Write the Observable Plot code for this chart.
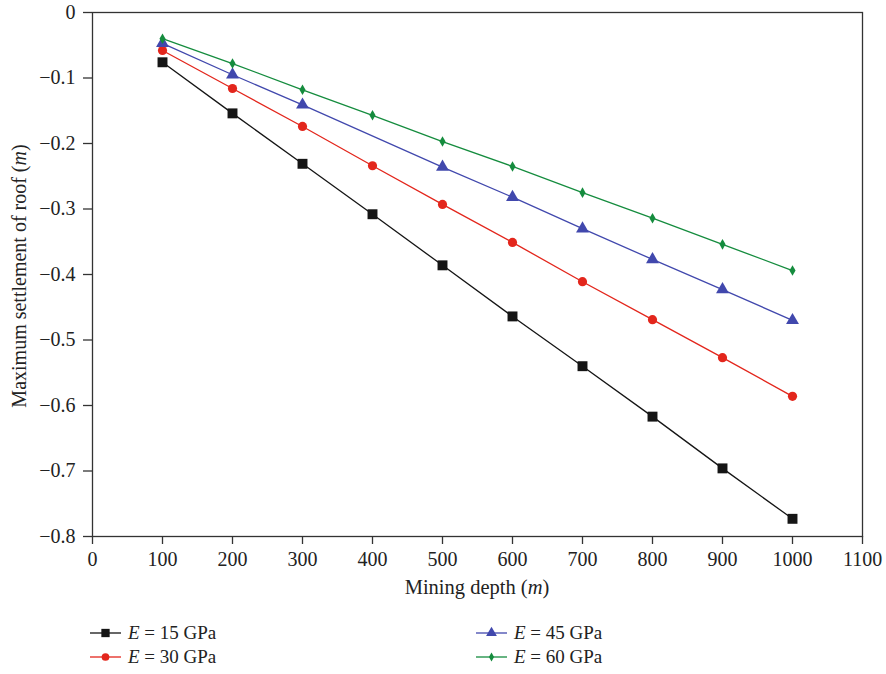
<!DOCTYPE html>
<html>
<head>
<meta charset="utf-8">
<script src="https://cdn.jsdelivr.net/npm/d3@7"></script>
<script src="https://cdn.jsdelivr.net/npm/@observablehq/plot@0.6"></script>
<style>
  body { margin: 0; background: #fff; font-family: "Liberation Serif", "DejaVu Serif", serif; }
  #wrap { position: relative; width: 886px; height: 674px; }
  .leg { position: absolute; font-size: 19px; color: #222; display: flex; align-items: center; white-space: nowrap; }
  .leg svg { margin-right: 7px; }
</style>
</head>
<body>
<div id="wrap"></div>
<script>
const depth = [100, 200, 300, 400, 500, 600, 700, 800, 900, 1000];
const e15 = [-0.076, -0.154, -0.231, -0.308, -0.386, -0.464, -0.540, -0.617, -0.696, -0.773];
const e30 = [-0.058, -0.116, -0.174, -0.234, -0.293, -0.351, -0.411, -0.469, -0.527, -0.586];
const e45depth = [100, 200, 300, 500, 600, 700, 800, 900, 1000];
const e45 = [-0.047, -0.095, -0.141, -0.236, -0.282, -0.330, -0.377, -0.423, -0.470];
const e60 = [-0.040, -0.078, -0.118, -0.157, -0.197, -0.235, -0.275, -0.314, -0.354, -0.394];
const xTicks = [0, 100, 200, 300, 400, 500, 600, 700, 800, 900, 1000, 1100];
const yTicks = [0, -0.1, -0.2, -0.3, -0.4, -0.5, -0.6, -0.7, -0.8];
const seriesNames = ["15", "30", "45", "60"];
const colors = ["#151515", "#e3261c", "#4148ad", "#158c3e"];
const symbols = ["square", "circle", "triangle", "diamond"];
const radii = [5.6, 4.6, 4.8, 3.2];

const data = [];
depth.forEach((d, i) => data.push({s: "15", x: d, y: e15[i]}));
depth.forEach((d, i) => data.push({s: "30", x: d, y: e30[i]}));
e45depth.forEach((d, i) => data.push({s: "45", x: d, y: e45[i]}));
depth.forEach((d, i) => data.push({s: "60", x: d, y: e60[i]}));

const marks = [Plot.frame({stroke: "#333", strokeWidth: 1.3})];
seriesNames.forEach((s, k) => {
  const sub = data.filter(d => d.s === s);
  marks.push(Plot.line(sub, {x: "x", y: "y", stroke: colors[k], strokeWidth: 1.3}));
  marks.push(Plot.dot(sub, {x: "x", y: "y", fill: colors[k], stroke: "none", symbol: symbols[k], r: radii[k]}));
});
marks.push(Plot.axisX({ticks: xTicks, tickSize: 8, tickPadding: 7, label: null, stroke: "#333", strokeWidth: 1.3,
  tickFormat: d => String(d)}));
marks.push(Plot.axisY({ticks: yTicks, tickSize: 9, tickPadding: 8, label: null, stroke: "#333", strokeWidth: 1.3,
  tickFormat: d => d === 0 ? "0" : "\u2212" + Math.abs(d).toFixed(1)}));

const chart = Plot.plot({
  width: 886, height: 610,
  marginLeft: 92, marginRight: 24, marginTop: 12, marginBottom: 74,
  x: {domain: [0, 1100]},
  y: {domain: [-0.8, 0]},
  style: {fontFamily: "Liberation Serif, DejaVu Serif, serif", fontSize: "20px", color: "#222", background: "#fff"},
  marks
});
document.getElementById("wrap").appendChild(chart);

const svg = d3.select(chart);
const xt = svg.append("text").attr("x", 477).attr("y", 594).attr("text-anchor", "middle")
  .attr("font-size", 20.5).attr("fill", "#222");
xt.append("tspan").text("Mining depth (");
xt.append("tspan").attr("font-style", "italic").text("m");
xt.append("tspan").text(")");
const yt = svg.append("text").attr("transform", "translate(26,276) rotate(-90)").attr("text-anchor", "middle")
  .attr("font-size", 20).attr("fill", "#222");
yt.append("tspan").text("Maximum settlement of roof (");
yt.append("tspan").attr("font-style", "italic").text("m");
yt.append("tspan").text(")");

// legend
const legPos = [[90, 633], [90, 657], [476, 633], [476, 657]];
const wrap = document.getElementById("wrap");
seriesNames.forEach((s, k) => {
  const div = document.createElement("div");
  div.className = "leg";
  div.style.left = legPos[k][0] + "px";
  div.style.top = (legPos[k][1] - 11) + "px";
  const icon = d3.create("svg").attr("width", 31).attr("height", 22);
  icon.append("line").attr("x1", 0).attr("x2", 31).attr("y1", 11).attr("y2", 11)
    .attr("stroke", colors[k]).attr("stroke-width", 1.3);
  const sym = {square: d3.symbolSquare, circle: d3.symbolCircle, triangle: d3.symbolTriangle, diamond: d3.symbolDiamond}[symbols[k]];
  icon.append("path").attr("transform", "translate(15.5,11)")
    .attr("d", d3.symbol(sym, Math.PI * radii[k] * radii[k] * 0.7)()).attr("fill", colors[k]);
  div.appendChild(icon.node());
  const label = document.createElement("span");
  label.innerHTML = "<i>E</i> = " + s + " GPa";
  div.appendChild(label);
  wrap.appendChild(div);
});
</script>
</body>
</html>
